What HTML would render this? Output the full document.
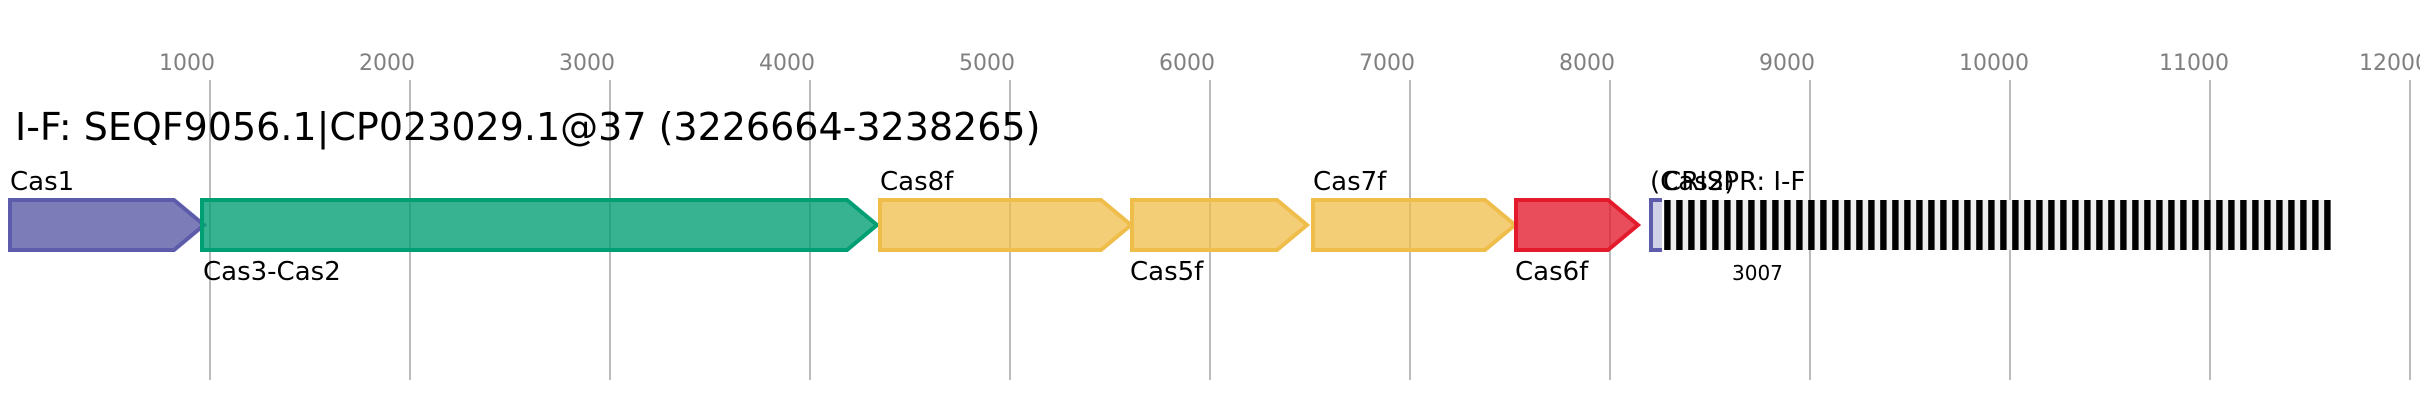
<!DOCTYPE html>
<html><head><meta charset="utf-8"><style>html,body{margin:0;padding:0;background:#fff}svg{display:block}text{font-family:"DejaVu Sans",sans-serif}</style></head><body>
<svg width="2420" height="400" viewBox="0 0 2420 400" xmlns="http://www.w3.org/2000/svg">
<rect width="2420" height="400" fill="#fff"/>
<g stroke="#bbb" stroke-width="2">
<line x1="210" y1="80" x2="210" y2="380"/><line x1="410" y1="80" x2="410" y2="380"/><line x1="610" y1="80" x2="610" y2="380"/><line x1="810" y1="80" x2="810" y2="380"/><line x1="1010" y1="80" x2="1010" y2="380"/><line x1="1210" y1="80" x2="1210" y2="380"/><line x1="1410" y1="80" x2="1410" y2="380"/><line x1="1610" y1="80" x2="1610" y2="380"/><line x1="1810" y1="80" x2="1810" y2="380"/><line x1="2010" y1="80" x2="2010" y2="380"/><line x1="2210" y1="80" x2="2210" y2="380"/><line x1="2410" y1="80" x2="2410" y2="380"/>
</g>
<g font-size="22" fill="#808080">
<text x="159" y="70">1000</text><text x="359" y="70">2000</text><text x="559" y="70">3000</text><text x="759" y="70">4000</text><text x="959" y="70">5000</text><text x="1159" y="70">6000</text><text x="1359" y="70">7000</text><text x="1559" y="70">8000</text><text x="1759" y="70">9000</text><text x="1959" y="70">10000</text><text x="2159" y="70">11000</text><text x="2359" y="70">12000</text>
</g>
<text x="15" y="140" font-size="38" fill="#000">I-F: SEQF9056.1|CP023029.1@37 (3226664-3238265)</text>
<g stroke-width="4" fill-opacity=".78">
<polygon points="10,200 174,200 204,225 174,250 10,250" fill="#5757a5" stroke="#5c5cab"/>
<polygon points="202,200 847,200 877,225 847,250 202,250" fill="#009e73" stroke="#009e73"/>
<polygon points="880,200 1101,200 1131,225 1101,250 880,250" fill="#efbd4a" fill-opacity=".75" stroke="#efbd4a"/>
<polygon points="1132,200 1277,200 1307,225 1277,250 1132,250" fill="#efbd4a" fill-opacity=".75" stroke="#efbd4a"/>
<polygon points="1313,200 1485,200 1515,225 1485,250 1313,250" fill="#efbd4a" fill-opacity=".75" stroke="#efbd4a"/>
<polygon points="1516,200 1608,200 1638,225 1608,250 1516,250" fill="#e31a2c" stroke="#e31a2c"/>
</g>
<rect x="1651" y="200" width="11" height="50" fill="#d0d0e6"/>
<path d="M1662 200H1651V250H1662" fill="none" stroke="#5c5cab" stroke-width="4"/>
<rect x="1664" y="200" width="667" height="50" fill="#eee"/>
<line x1="1664.2" y1="225" x2="2331" y2="225" stroke="#000" stroke-width="50" stroke-dasharray="6.4 5.6"/>
<g font-size="26" fill="#000">
<text x="10" y="190">Cas1</text>
<text x="203" y="280">Cas3-Cas2</text>
<text x="880" y="190">Cas8f</text>
<text x="1130" y="280">Cas5f</text>
<text x="1313" y="190">Cas7f</text>
<text x="1515" y="280">Cas6f</text>
<text x="1650" y="190">(Cas2)</text>
<text x="1663" y="190">CRISPR: I-F</text>
</g>
<text x="1732" y="280" font-size="20" fill="#000">3007</text>
</svg>
</body></html>
